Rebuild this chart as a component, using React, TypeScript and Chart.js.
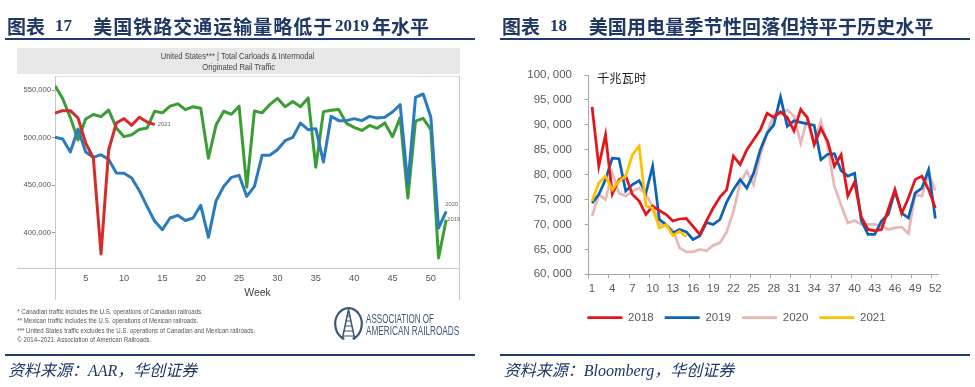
import React, { useEffect, useRef } from 'react';
import { Chart, registerables } from 'chart.js';

Chart.register(...registerables);

// ---------------- Figure 17 : AAR weekly originated rail traffic ----------------
const railWeeks = [1, 2, 3, 4, 5, 6, 7, 8, 9, 10, 11, 12, 13, 14, 15, 16, 17, 18, 19, 20, 21, 22, 23, 24, 25, 26,
  27, 28, 29, 30, 31, 32, 33, 34, 35, 36, 37, 38, 39, 40, 41, 42, 43, 44, 45, 46, 47, 48, 49, 50, 51, 52];
const railXTicks = [5, 10, 15, 20, 25, 30, 35, 40, 45, 50];
const railYTicks = [400000, 450000, 500000, 550000];
const rail2019 = [554500, 541000, 521000, 497500, 519500, 524200, 522000, 529000, 510200, 501000,
  503000, 508500, 510000, 527700, 526000, 533000, 535500, 529400, 532500, 530800,
  478300, 513200, 527700, 524500, 533000, 448000, 528000, 526000, 534700, 541300,
  532400, 537800, 532400, 541700, 469000, 527300, 528700, 529400, 514900, 510700,
  507500, 512800, 509800, 515400, 500900, 521000, 436600, 517300, 520300, 508400,
  373600, 413800];
const rail2020 = [500300, 498500, 485000, 509000, 485000, 479300, 482100, 477000, 462800, 462500,
  457600, 444300, 427800, 412100, 403300, 415600, 418400, 413000, 415600, 428900,
  395300, 433800, 448800, 458300, 460400, 438300, 448800, 481400, 481400, 487300,
  496800, 500300, 515300, 508300, 509400, 474300, 522300, 517800, 517800, 519900,
  517800, 522300, 520600, 521300, 526900, 534600, 450600, 542300, 545800, 521300,
  405100, 422600];
const rail2021 = [525800, 528300, 528300, 520600, 494300, 478600, 377800, 487300, 515300, 519900,
  512900, 521300, 516400, 513600];
const railSeriesNames = ['2021', '2020', '2019'];
const railColors = ['#d42b2b', '#2b7bbd', '#3b9d35'];
const railEndLabels = [
  { name: '2021', dx: 3, dy: 0 },
  { name: '2020', dx: -1, dy: -7 },
  { name: '2019', dx: 1, dy: -0.5 },
];
const railHeader = ['United States*** | Total Carloads & Intermodal', 'Originated Rail Traffic'];
const railNotes = [
  '* Canadian traffic includes the U.S. operations of Canadian railroads.',
  '** Mexican traffic includes the U.S. operations of Mexican railroads.',
  '*** United States traffic excludes the U.S. operations of Canadian and Mexican railroads.',
  '\u00a9 2014\u20132021. Association of American Railroads.',
];
const railNoteWidths = [185.5, 181, 238, 134];
const railNoteY = [311.7, 320.7, 330, 339.3];

// ---------------- Figure 18 : US weekly electricity output ----------------
const elecWeeks = ['1', '2', '3', '4', '5', '6', '7', '8', '9', '10', '11', '12', '13', '14', '15', '16', '17', '18',
  '19', '20', '21', '22', '23', '24', '25', '26', '27', '28', '29', '30', '31', '32', '33', '34', '35', '36',
  '37', '38', '39', '40', '41', '42', '43', '44', '45', '46', '47', '48', '49', '50', '51', '52'];
const elec2018 = [93600, 81700, 88000, 76100, 79000, 79700, 76000, 74700, 72000, 73700,
  72800, 72000, 70700, 71100, 71200, 69600, 68000, 70700, 73300, 75500,
  77000, 83700, 82000, 85000, 87000, 89000, 92300, 91500, 92600, 91500,
  88800, 93100, 91400, 86000, 89300, 86700, 81700, 84000, 75700, 78500,
  71500, 69000, 68700, 69000, 73000, 77000, 72200, 75300, 79000, 79700,
  77000, 73300];
const elec2019 = [74300, 76000, 79000, 83300, 83200, 76700, 78000, 78800, 76300, 81700,
  71000, 70000, 68300, 69000, 68500, 67000, 67700, 70400, 70000, 71000,
  74500, 77000, 79000, 77300, 80300, 85000, 88300, 90000, 95600, 89700,
  90800, 90500, 90200, 89900, 83000, 84100, 84200, 80800, 79700, 80300,
  70800, 68000, 68000, 70700, 72000, 76700, 72300, 71300, 76300, 77300,
  81000, 71200];
const elec2020 = [71700, 76000, 75000, 80300, 76300, 75700, 76700, 77300, 76000, 73700,
  70300, 69700, 68900, 65300, 64500, 64500, 65000, 64700, 65800, 66300,
  68500, 72600, 78300, 80700, 78000, 84000, 88300, 92000, 92300, 93000,
  91700, 86300, 91300, 86700, 90700, 85700, 77700, 73900, 70300, 70800,
  70000, 70000, 70000, 69700, 69000, 69300, 69500, 68200, 76000, 75700,
  80300, 76800];
const elec2021 = [74700, 78300, 79700, 77000, 78700, 79700, 84000, 85700, 73700, 73300,
  69300, 70000, 67800, 68600, 67500];
const elecNames = ['2018', '2019', '2020', '2021'];
const elecColors = ['#e3151c', '#0a63b8', '#e8b8b7', '#ffc000'];
const elecDrawOrder = [1, 2, 3, 0];
const elecUnit = '千兆瓦时';
const elecLegendCenter = 236.5; // legend centre inside the canvas

const SANS = '"Liberation Sans", Arial, sans-serif';
const NAVY = '#1f3864';
const LINE_NAVY = '#1f3b72';

const railFramePlugin = {
  id: 'railFrame',
  beforeDatasetsDraw(chart: any) {
    const { ctx, chartArea: a } = chart;
    ctx.save();
    ctx.lineWidth = 1;
    ctx.strokeStyle = '#e2e2e2';
    ctx.beginPath();
    ctx.moveTo(a.left, Math.round(a.top) - 0.5);
    ctx.lineTo(a.right, Math.round(a.top) - 0.5);
    ctx.stroke();
    ctx.strokeStyle = '#c8c8c8';
    ctx.beginPath();
    const l = Math.round(a.left) + 0.5;
    const r = Math.round(a.right) - 0.5;
    const b = Math.round(a.bottom) + 0.5;
    ctx.moveTo(l, a.top - 1);
    ctx.lineTo(l, a.bottom + 32);
    ctx.moveTo(r, a.top - 1);
    ctx.lineTo(r, a.bottom + 32);
    ctx.moveTo(17, b);
    ctx.lineTo(r, b);
    ctx.stroke();
    ctx.restore();
  },
};

const railEndLabelPlugin = {
  id: 'railEndLabel',
  afterDatasetsDraw(chart: any) {
    const { ctx } = chart;
    ctx.save();
    ctx.font = `5.8px ${SANS}`;
    ctx.fillStyle = '#666';
    ctx.textBaseline = 'middle';
    ctx.textAlign = 'left';
    chart.data.datasets.forEach((ds: any, i: number) => {
      const cfg = railEndLabels.find((e) => e.name === ds.label);
      const meta = chart.getDatasetMeta(i);
      const last = meta.data[meta.data.length - 1];
      if (!cfg || !last) return;
      ctx.fillText(ds.label, last.x + cfg.dx, last.y + cfg.dy);
    });
    ctx.restore();
  },
};

const legendShiftPlugin = {
  id: 'legendShift',
  afterLayout(chart: any) {
    const lg = chart.legend;
    if (!lg) return;
    const shift = elecLegendCenter - (lg.left + lg.right) / 2;
    lg.left += shift;
    lg.right += shift;
  },
};

function RailChart() {
  const ref = useRef<HTMLCanvasElement>(null);
  useEffect(() => {
    const series = [rail2021, rail2020, rail2019];
    const chart = new Chart(ref.current as HTMLCanvasElement, {
      type: 'line',
      data: {
        datasets: series.map((vals, i) => ({
          label: railSeriesNames[i],
          data: vals.map((v, j) => ({ x: railWeeks[j], y: v })),
          borderColor: railColors[i],
          backgroundColor: railColors[i],
          borderWidth: 3,
          pointRadius: 0,
          tension: 0,
          borderJoinStyle: 'round',
        })),
      },
      options: {
        animation: false,
        responsive: false,
        maintainAspectRatio: false,
        layout: { padding: { left: 0, right: 27, top: 77, bottom: 87 } },
        plugins: { legend: { display: false }, tooltip: { enabled: false } },
        scales: {
          x: {
            type: 'linear',
            min: 1,
            max: 53.8,
            afterBuildTicks: (s: any) => { s.ticks = railXTicks.map((v) => ({ value: v })); },
            afterFit: (s: any) => { s.height = 32; },
            grid: { display: false, drawTicks: false },
            border: { display: false },
            ticks: { font: { family: SANS, size: 9.2 }, color: '#555', padding: 4.8, maxRotation: 0, autoSkip: false },
            title: { display: true, text: 'Week', font: { family: SANS, size: 10.5 }, color: '#444', padding: { top: 0, bottom: 0.5 } },
          },
          y: {
            type: 'linear',
            min: 363100,
            max: 563650,
            afterBuildTicks: (s: any) => { s.ticks = railYTicks.map((v) => ({ value: v })); },
            afterFit: (s: any) => { s.width = 55; },
            grid: { display: true, drawOnChartArea: false, drawTicks: true, tickLength: 3, color: '#999' },
            border: { display: false },
            ticks: {
              font: { family: SANS, size: 7.6 },
              color: '#555',
              padding: 1,
              callback: (v: any) => Number(v).toLocaleString('en-US'),
            },
          },
        },
      } as any,
      plugins: [railFramePlugin, railEndLabelPlugin],
    });
    return () => chart.destroy();
  }, []);
  return <canvas ref={ref} width={487} height={387} style={{ position: 'absolute', left: 0, top: 0 }} />;
}

function PowerChart() {
  const ref = useRef<HTMLCanvasElement>(null);
  useEffect(() => {
    const series = [elec2018, elec2019, elec2020, elec2021];
    const chart = new Chart(ref.current as HTMLCanvasElement, {
      type: 'line',
      data: {
        labels: elecWeeks,
        datasets: series.map((vals, i) => ({
          label: elecNames[i],
          data: vals,
          borderColor: elecColors[i],
          backgroundColor: elecColors[i],
          borderWidth: 2.75,
          pointRadius: 0,
          tension: 0,
          order: elecDrawOrder[i],
        })),
      },
      options: {
        animation: false,
        responsive: false,
        maintainAspectRatio: false,
        layout: { padding: { left: 0, right: 34.3, top: 30, bottom: 6.55 } },
        plugins: {
          tooltip: { enabled: false },
          legend: {
            position: 'bottom',
            labels: {
              usePointStyle: true,
              pointStyle: 'line',
              pointStyleWidth: 35,
              padding: 11,
              color: '#595959',
              font: { family: SANS, size: 11.5 },
              sort: (a: any, b: any) => a.datasetIndex - b.datasetIndex,
            },
          },
        },
        scales: {
          x: {
            type: 'category',
            offset: true,
            afterFit: (s: any) => { s.height = 26.65; },
            grid: {
              display: true,
              offset: true,
              drawOnChartArea: false,
              drawTicks: true,
              tickLength: 4,
              color: (c: any) => (c.index % 3 === 0 ? '#a6a6a6' : 'rgba(0,0,0,0)'),
            },
            border: { display: true, color: '#a6a6a6', width: 1 },
            ticks: {
              autoSkip: false,
              maxRotation: 0,
              padding: 3.5,
              color: '#595959',
              font: { family: SANS, size: 11.5 },
              callback: (_v: any, i: number) => (i % 3 === 0 ? elecWeeks[i] : ''),
            },
          },
          y: {
            type: 'linear',
            min: 60000,
            max: 100000,
            afterFit: (s: any) => { s.width = 88.7; },
            grid: { display: true, drawOnChartArea: false, drawTicks: true, tickLength: 4, color: '#a6a6a6' },
            border: { display: true, color: '#a6a6a6', width: 1 },
            ticks: {
              stepSize: 5000,
              padding: 12.7,
              color: '#595959',
              font: { family: SANS, size: 11.5 },
              callback: (v: any) => Number(v).toLocaleString('en-US').replace(',', ', '),
            },
          },
        },
      } as any,
      plugins: [legendShiftPlugin],
    });
    return () => chart.destroy();
  }, []);
  return <canvas ref={ref} width={473} height={295} style={{ position: 'absolute', left: 500, top: 45 }} />;
}

const cjkTitle: React.CSSProperties = {
  position: 'absolute',
  top: 15.5,
  fontSize: 19,
  lineHeight: '19px',
  fontWeight: 700,
  color: NAVY,
  fontFamily: '"Noto Sans CJK SC", sans-serif',
  whiteSpace: 'nowrap',
};
const numTitle: React.CSSProperties = {
  ...cjkTitle,
  fontFamily: '"Liberation Serif", serif',
  fontSize: 17,
};
const sourceStyle: React.CSSProperties = {
  position: 'absolute',
  top: 361.7,
  fontSize: 16,
  lineHeight: '18px',
  fontStyle: 'italic',
  color: NAVY,
  fontFamily: '"Liberation Serif", "Noto Sans CJK SC", serif',
  whiteSpace: 'nowrap',
};

export default function App() {
  return (
    <div style={{ position: 'absolute', left: 0, top: 0, width: 975, height: 387, background: '#fff', overflow: 'hidden', fontFamily: SANS }}>
      {/* left header box */}
      <div style={{ position: 'absolute', left: 17, top: 48, width: 443, height: 26, background: '#e8e8e8' }} />
      <RailChart />
      <PowerChart />

      {/* titles */}
      <span style={{ ...cjkTitle, left: 7 }}>图表</span>
      <span style={{ ...numTitle, left: 55 }}>17</span>
      <span style={{ ...cjkTitle, left: 93.3, letterSpacing: 1 }}>美国铁路交通运输量略低于</span>
      <span style={{ ...numTitle, left: 335 }}>2019</span>
      <span style={{ ...cjkTitle, left: 372 }}>年水平</span>

      <span style={{ ...cjkTitle, left: 502 }}>图表</span>
      <span style={{ ...numTitle, left: 550 }}>18</span>
      <span style={{ ...cjkTitle, left: 588.7, letterSpacing: 0.17 }}>美国用电量季节性回落但持平于历史水平</span>

      {/* rules */}
      <div style={{ position: 'absolute', left: 5, top: 37.5, width: 470, height: 2, background: LINE_NAVY }} />
      <div style={{ position: 'absolute', left: 500, top: 37.5, width: 470, height: 2, background: LINE_NAVY }} />
      <div style={{ position: 'absolute', left: 5, top: 353.5, width: 470, height: 2, background: LINE_NAVY }} />
      <div style={{ position: 'absolute', left: 500, top: 353.5, width: 470, height: 2, background: LINE_NAVY }} />

      {/* sources */}
      <span style={{ ...sourceStyle, left: 8 }}>资料来源：AAR，华创证券</span>
      <span style={{ ...sourceStyle, left: 503.7 }}>资料来源：Bloomberg，华创证券</span>

      {/* right chart unit */}
      <span style={{ position: 'absolute', left: 597, top: 70.5, fontSize: 12.3, lineHeight: '14px', color: '#222', fontFamily: '"Noto Sans CJK SC", sans-serif' }}>{elecUnit}</span>

      {/* left chart texts and logo */}
      <svg width={487} height={387} style={{ position: 'absolute', left: 0, top: 0, pointerEvents: 'none' }}>
        <g fontFamily={SANS} fill="#444" fontSize={9.8} textAnchor="middle">
          <text x={237.5} y={55} dominantBaseline="central" textLength={153.6} lengthAdjust="spacingAndGlyphs">{railHeader[0]}</text>
          <text x={238.7} y={66.7} dominantBaseline="central" textLength={72.7} lengthAdjust="spacingAndGlyphs">{railHeader[1]}</text>
        </g>
        <g fontFamily={SANS} fill="#555" fontSize={6.6}>
          {railNotes.map((t, i) => (
            <text key={i} x={17.3} y={railNoteY[i]} dominantBaseline="central" textLength={railNoteWidths[i]} lengthAdjust="spacingAndGlyphs">{t}</text>
          ))}
        </g>
        <g stroke="#3d5775" fill="none" strokeLinecap="round">
          <path d="M343.5 338.5 A13.3 15.8 0 1 1 353.5 338.5" strokeWidth={2.2} />
          <path d="M348.5 309.5 L342.3 339 M348.5 309.5 L354.7 339" strokeWidth={1.5} />
          <path d="M347 316 L350 316 M346.2 321 L350.8 321 M345.3 326 L351.7 326 M344.3 331 L352.7 331 M343.3 336 L353.7 336" strokeWidth={1.2} />
        </g>
        <g fontFamily={SANS} fill="#3d5775" fontSize={12.5}>
          <text x={366} y={319.3} dominantBaseline="central" textLength={68} lengthAdjust="spacingAndGlyphs">ASSOCIATION OF</text>
          <text x={366} y={330.7} dominantBaseline="central" textLength={93.3} lengthAdjust="spacingAndGlyphs">AMERICAN RAILROADS</text>
        </g>
      </svg>
    </div>
  );
}
